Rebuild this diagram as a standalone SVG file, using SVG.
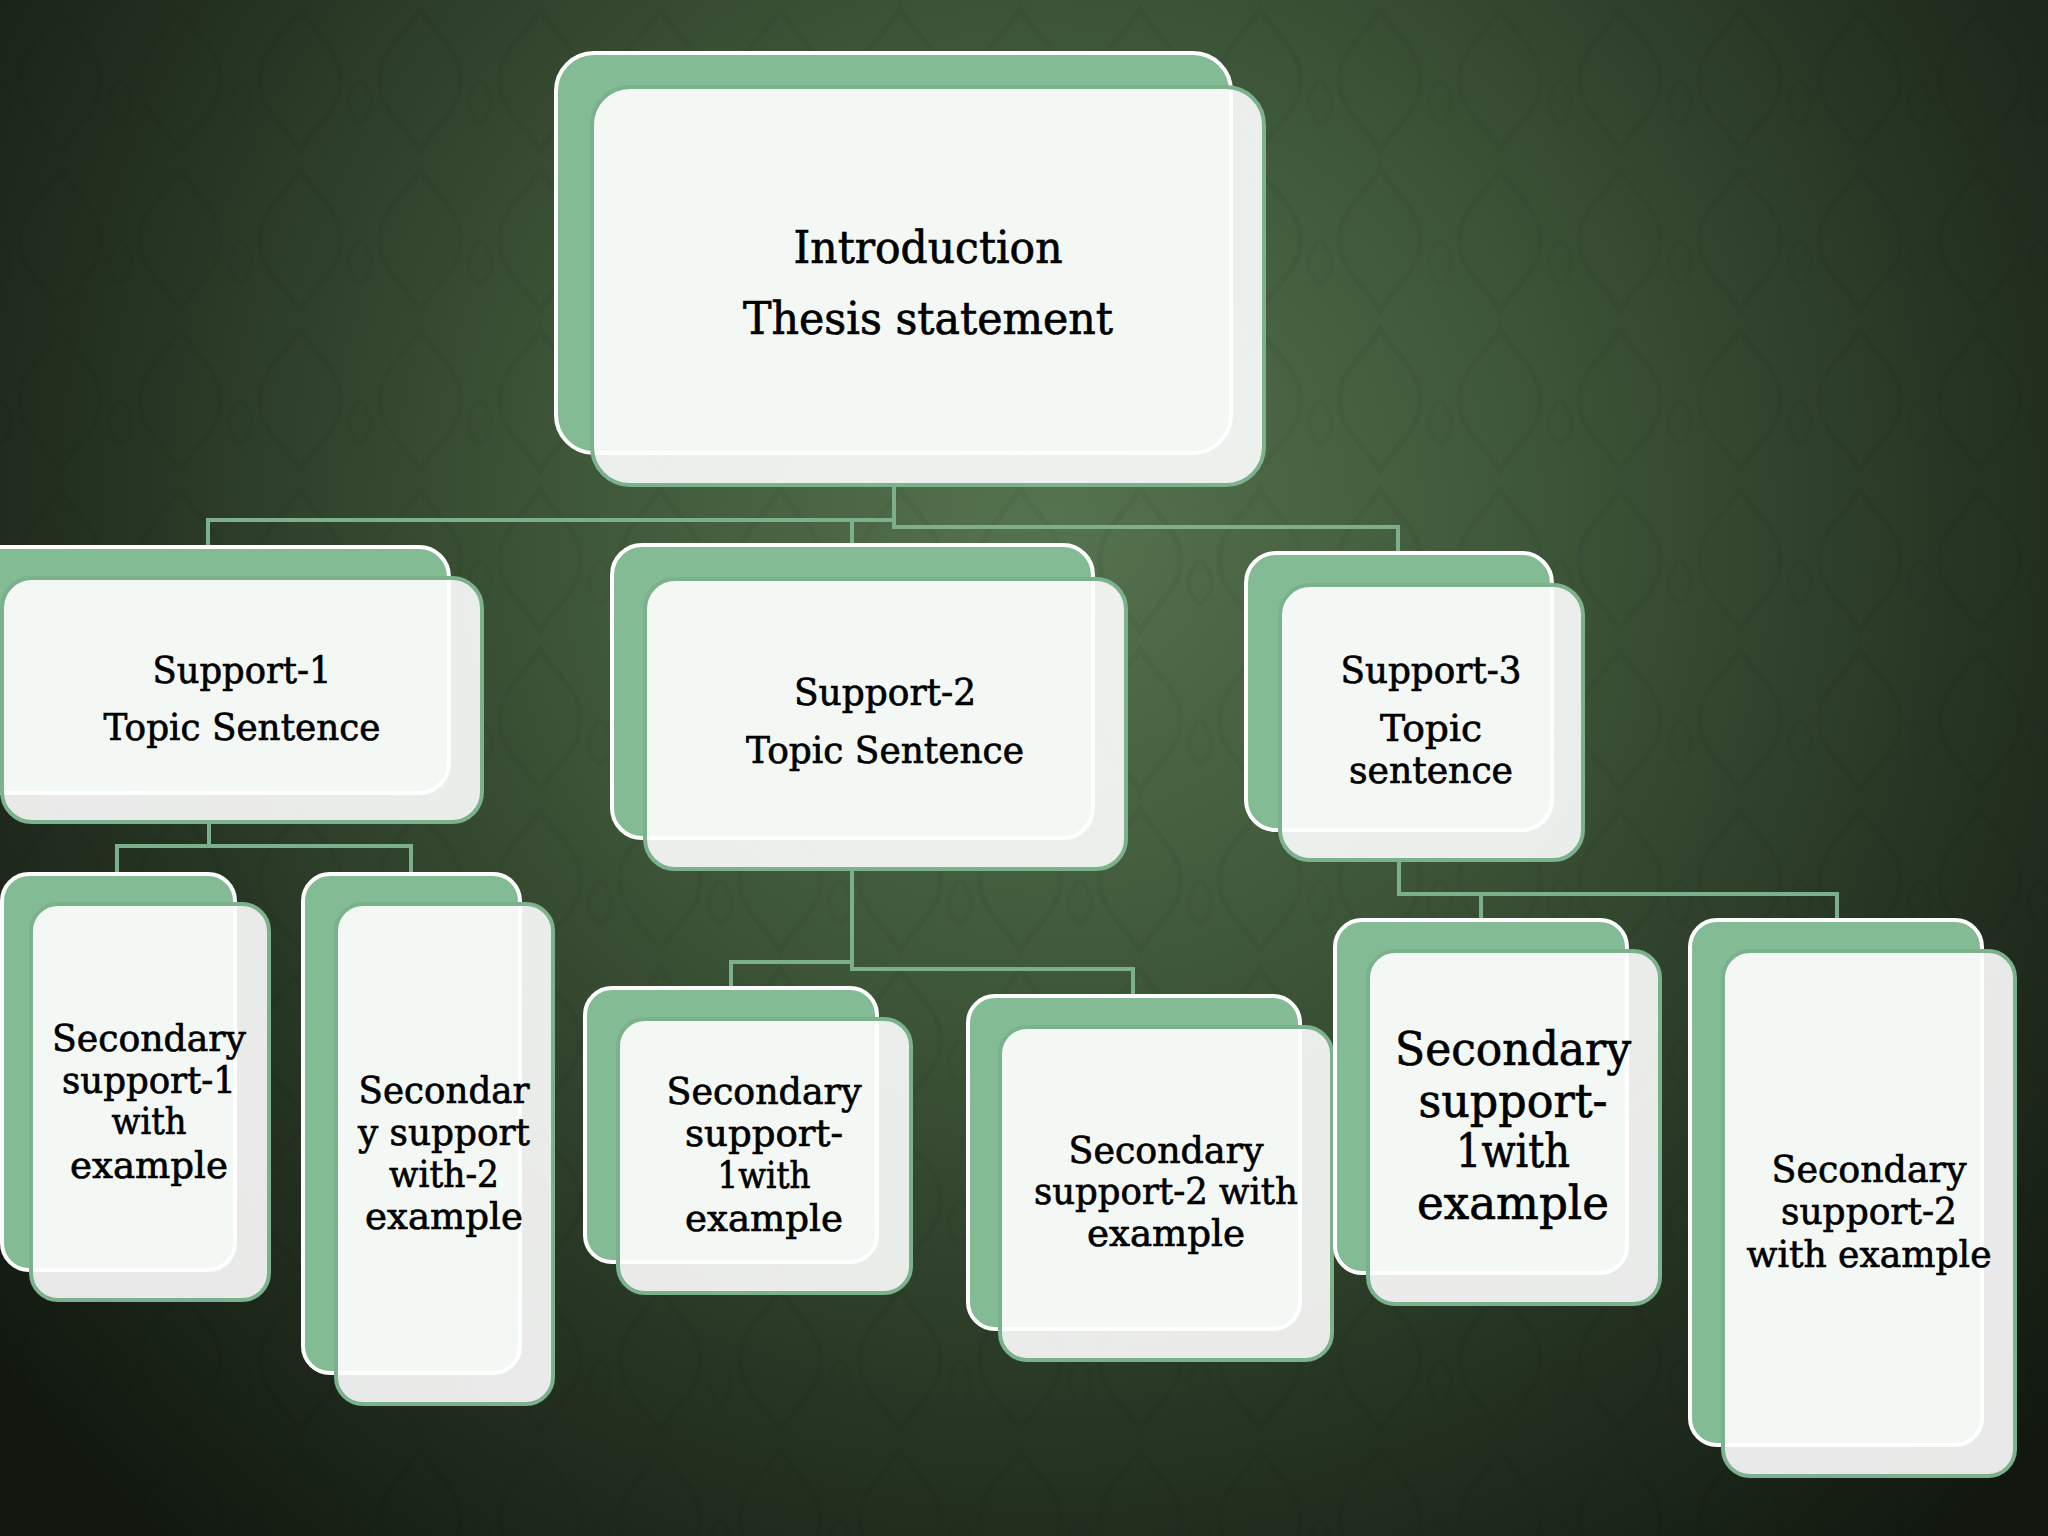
<svg xmlns="http://www.w3.org/2000/svg" width="2048" height="1536" viewBox="0 0 2048 1536">
<defs>
<radialGradient id="bg" cx="1050" cy="520" r="1350" gradientUnits="userSpaceOnUse">
<stop offset="0" stop-color="#56734f"/>
<stop offset="0.35" stop-color="#3f5739"/>
<stop offset="0.7" stop-color="#253322"/>
<stop offset="1" stop-color="#121810"/>
</radialGradient>
<pattern id="damask" width="120" height="160" patternUnits="userSpaceOnUse">
<path d="M60,10 C80,40 100,50 100,80 C100,110 80,120 60,150 C40,120 20,110 20,80 C20,50 40,40 60,10 Z" fill="none" stroke="#000" stroke-opacity="0.045" stroke-width="6"/>
<path d="M0,80 C15,95 15,110 0,125 M120,80 C105,95 105,110 120,125" fill="none" stroke="#000" stroke-opacity="0.035" stroke-width="5"/>
</pattern>
<style>
.back { fill:#83BB95; stroke:#FFFFFF; stroke-width:4; }
.front { fill:#FFFFFF; fill-opacity:0.9; stroke:#7BB28D; stroke-width:4; }
.conn { fill:none; stroke:#7CB08D; stroke-width:4; }
text { font-family:"DejaVu Serif","Liberation Serif",serif; fill:#000000; stroke:#000000; stroke-width:0.7px; text-anchor:middle; }
.t1 { font-size:45px; }
.t2 { font-size:38px; }
.t3 { font-size:38px; }
.t4 { font-size:46px; }
</style>
</defs>
<rect x="0" y="0" width="2048" height="1536" fill="url(#bg)"/>
<rect x="0" y="0" width="2048" height="1536" fill="url(#damask)"/>

<g id="connectors">
<path class="conn" d="M894,485 V520 H208 V547"/>
<path class="conn" d="M852,520 V546"/>
<path class="conn" d="M894,520 V527 H1398 V553"/>
<path class="conn" d="M209,823 V846 H117 V874"/>
<path class="conn" d="M209,846 H411 V874"/>
<path class="conn" d="M852,869 V969 H1133 V997"/>
<path class="conn" d="M852,962 H731 V988"/>
<path class="conn" d="M1399,859 V894 H1837 V920"/>
<path class="conn" d="M1481,894 V920"/>
</g>

<g id="intro">
<rect class="back" x="556" y="53" width="675" height="400" rx="38"/>
<rect class="front" x="592" y="87" width="672" height="398" rx="38"/>
<text class="t1" x="928" y="263" textLength="269" lengthAdjust="spacingAndGlyphs">Introduction</text>
<text class="t1" x="928" y="334" textLength="370" lengthAdjust="spacingAndGlyphs">Thesis statement</text>
</g>

<g id="support1">
<rect class="back" x="-40" y="547" width="489" height="246" rx="30"/>
<rect class="front" x="2" y="578" width="480" height="244" rx="30"/>
<text class="t2" x="242" y="683" textLength="179" lengthAdjust="spacingAndGlyphs">Support-1</text>
<text class="t2" x="242" y="740" textLength="277" lengthAdjust="spacingAndGlyphs">Topic Sentence</text>
</g>

<g id="support2">
<rect class="back" x="612" y="545" width="481" height="293" rx="30"/>
<rect class="front" x="645" y="579" width="481" height="290" rx="30"/>
<text class="t2" x="885" y="705" textLength="182" lengthAdjust="spacingAndGlyphs">Support-2</text>
<text class="t2" x="885" y="763" textLength="278" lengthAdjust="spacingAndGlyphs">Topic Sentence</text>
</g>

<g id="support3">
<rect class="back" x="1246" y="553" width="306" height="277" rx="30"/>
<rect class="front" x="1280" y="585" width="303" height="275" rx="30"/>
<text class="t2" x="1431" y="683" textLength="181" lengthAdjust="spacingAndGlyphs">Support-3</text>
<text class="t2" x="1431" y="741" textLength="102" lengthAdjust="spacingAndGlyphs">Topic</text>
<text class="t2" x="1431" y="783" textLength="164" lengthAdjust="spacingAndGlyphs">sentence</text>
</g>

<g id="sec1-1">
<rect class="back" x="2" y="874" width="233" height="396" rx="27"/>
<rect class="front" x="31" y="904" width="238" height="396" rx="27"/>
<text class="t3" x="149" y="1051" textLength="194" lengthAdjust="spacingAndGlyphs">Secondary</text>
<text class="t3" x="149" y="1093" textLength="174" lengthAdjust="spacingAndGlyphs">support-1</text>
<text class="t3" x="149" y="1134" textLength="75" lengthAdjust="spacingAndGlyphs">with</text>
<text class="t3" x="149" y="1178" textLength="158" lengthAdjust="spacingAndGlyphs">example</text>
</g>

<g id="sec1-2">
<rect class="back" x="303" y="874" width="217" height="499" rx="27"/>
<rect class="front" x="336" y="904" width="217" height="500" rx="27"/>
<text class="t3" x="444" y="1103" textLength="171" lengthAdjust="spacingAndGlyphs">Secondar</text>
<text class="t3" x="444" y="1145" textLength="172" lengthAdjust="spacingAndGlyphs">y support</text>
<text class="t3" x="444" y="1187" textLength="110" lengthAdjust="spacingAndGlyphs">with-2</text>
<text class="t3" x="444" y="1229" textLength="158" lengthAdjust="spacingAndGlyphs">example</text>
</g>

<g id="sec2-1">
<rect class="back" x="585" y="988" width="292" height="274" rx="27"/>
<rect class="front" x="618" y="1019" width="293" height="274" rx="27"/>
<text class="t3" x="764" y="1104" textLength="195" lengthAdjust="spacingAndGlyphs">Secondary</text>
<text class="t3" x="764" y="1146" textLength="158" lengthAdjust="spacingAndGlyphs">support-</text>
<text class="t3" x="764" y="1188" textLength="93" lengthAdjust="spacingAndGlyphs">1with</text>
<text class="t3" x="764" y="1231" textLength="158" lengthAdjust="spacingAndGlyphs">example</text>
</g>

<g id="sec2-2">
<rect class="back" x="968" y="996" width="332" height="333" rx="27"/>
<rect class="front" x="1000" y="1027" width="332" height="333" rx="27"/>
<text class="t3" x="1166" y="1163" textLength="195" lengthAdjust="spacingAndGlyphs">Secondary</text>
<text class="t3" x="1166" y="1204" textLength="264" lengthAdjust="spacingAndGlyphs">support-2 with</text>
<text class="t3" x="1166" y="1246" textLength="158" lengthAdjust="spacingAndGlyphs">example</text>
</g>

<g id="sec3-1">
<rect class="back" x="1335" y="920" width="292" height="353" rx="27"/>
<rect class="front" x="1368" y="951" width="292" height="353" rx="27"/>
<text class="t4" x="1513" y="1065" textLength="236" lengthAdjust="spacingAndGlyphs">Secondary</text>
<text class="t4" x="1513" y="1117" textLength="189" lengthAdjust="spacingAndGlyphs">support-</text>
<text class="t4" x="1513" y="1167" textLength="114" lengthAdjust="spacingAndGlyphs">1with</text>
<text class="t4" x="1513" y="1219" textLength="192" lengthAdjust="spacingAndGlyphs">example</text>
</g>

<g id="sec3-2">
<rect class="back" x="1690" y="920" width="292" height="525" rx="27"/>
<rect class="front" x="1723" y="951" width="292" height="525" rx="27"/>
<text class="t3" x="1869" y="1182" textLength="195" lengthAdjust="spacingAndGlyphs">Secondary</text>
<text class="t3" x="1869" y="1224" textLength="176" lengthAdjust="spacingAndGlyphs">support-2</text>
<text class="t3" x="1869" y="1267" textLength="245" lengthAdjust="spacingAndGlyphs">with example</text>
</g>
</svg>
